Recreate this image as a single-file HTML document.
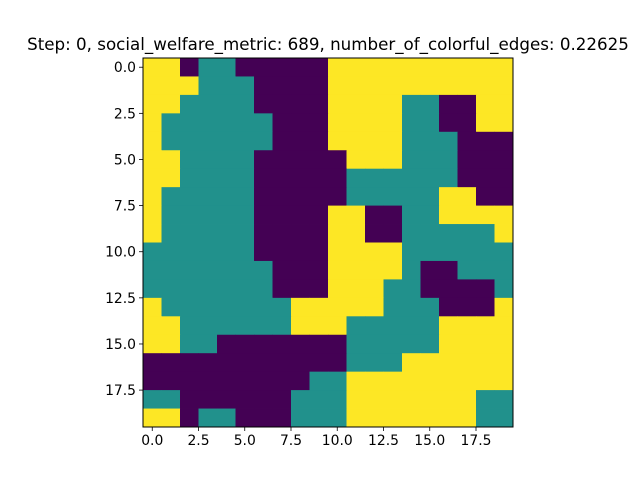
<!DOCTYPE html>
<html><head><meta charset="utf-8"><style>
body{margin:0;background:#fff}
svg{display:block;font-family:"DejaVu Sans","Liberation Sans",sans-serif}
</style></head><body>
<svg id="chart" width="640" height="480" viewBox="0 0 640 480">
<rect width="640" height="480" fill="#fff"/>
<text x="328" y="50" text-anchor="middle" font-size="16.7">Step: 0, social_welfare_metric: 689, number_of_colorful_edges: 0.22625</text>
<g id="cells"></g><g id="axes"></g>
</svg>
<script>
const gridRows = [
"YYPTTPPPPPYYYYYYYYYY",
"YYYTTTPPPPYYYYYYYYYY",
"YYTTTTPPPPYYYYTTPPYY",
"YTTTTTTPPPYYYYTTPPYY",
"YTTTTTTPPPYYYYTTTPPP",
"YYTTTTPPPPPYYYTTTPPP",
"YYTTTTPPPPPTTTTTTPPP",
"YTTTTTPPPPPTTTTTYYPP",
"YTTTTTPPPPYYPPTTYYYY",
"YTTTTTPPPPYYPPTTTTTY",
"TTTTTTPPPPYYYYTTTTTT",
"TTTTTTTPPPYYYYTPPTTT",
"TTTTTTTPPPYYYTTPPPPT",
"YTTTTTTTYYYYYTTTPPPY",
"YYTTTTTTYYYTTTTTYYYY",
"YYTTPPPPPPPTTTTTYYYY",
"PPPPPPPPPPPTTTYYYYYY",
"PPPPPPPPPTTYYYYYYYYY",
"TTPPPPPPTTTYYYYYYYTT",
"YYPTTPPPTTTYYYYYYYTT"
];
const xTickValues = [0,2.5,5,7.5,10,12.5,15,17.5];
const yTickValues = [0,2.5,5,7.5,10,12.5,15,17.5];
const colorMap = {P:"#440154",T:"#21918c",Y:"#fde725"};
const X0=143,X1=513,Y0=58,Y1=427;
const nC=20,nR=20;
const cw=(X1-X0)/nC, ch=(Y1-Y0)/nR;
const sx=v=>X0+(v+0.5)*cw, sy=v=>Y0+(v+0.5)*ch;
const NS="http://www.w3.org/2000/svg";
const cells=document.getElementById('cells'), axes=document.getElementById('axes');
gridRows.forEach((row,r)=>{[...row].forEach((k,c)=>{
  const e=document.createElementNS(NS,'rect');
  e.setAttribute('x',sx(c-0.5));e.setAttribute('y',sy(r-0.5));
  e.setAttribute('width',cw+0.4);e.setAttribute('height',ch+0.4);
  e.setAttribute('fill',colorMap[k]);
  
  
  cells.appendChild(e);
});});
function add(tag,attrs,txt){const e=document.createElementNS(NS,tag);for(const k in attrs)e.setAttribute(k,attrs[k]);if(txt!==undefined)e.textContent=txt;axes.appendChild(e);return e;}
const frame=add('rect',{x:X0,y:Y0,width:X1-X0,height:Y1-Y0,fill:'none',stroke:'#000','stroke-width':1});


xTickValues.forEach(v=>{
  const x=sx(v);
  const t=add('line',{x1:x,x2:x,y1:Y1,y2:Y1+4,stroke:'#000','stroke-width':0.8});
  
  
  const l=add('text',{x:x,y:Y1+18,'text-anchor':'middle','font-size':13.9},v.toFixed(1));
  
  
});
yTickValues.forEach(v=>{
  const y=sy(v);
  const t=add('line',{x1:X0-4,x2:X0,y1:y,y2:y,stroke:'#000','stroke-width':0.8});
  
  
  const l=add('text',{x:X0-7,y:y+5,'text-anchor':'end','font-size':13.9},v.toFixed(1));
  
  
});
</script>
</body></html>
